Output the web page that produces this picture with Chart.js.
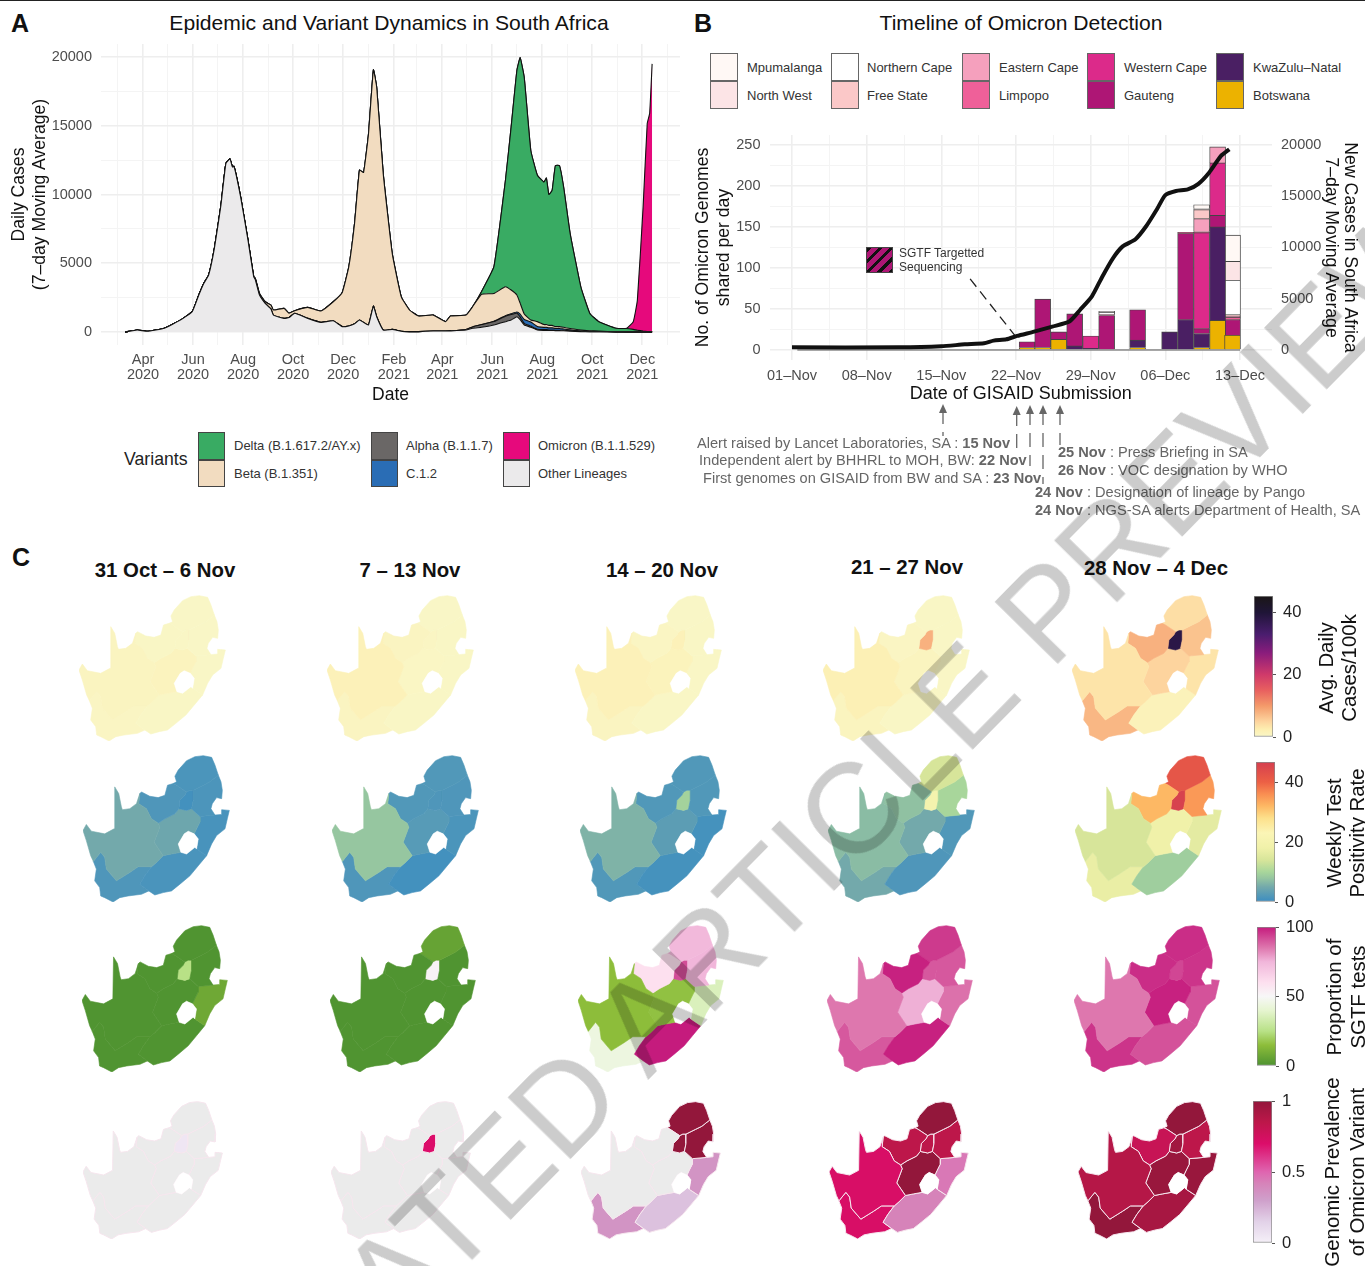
<!DOCTYPE html>
<html>
<head>
<meta charset="utf-8">
<title>Omicron in South Africa</title>
<script src="https://cdn.jsdelivr.net/npm/chart.js@4/dist/chart.umd.min.js"></script>
<style>
  html, body { margin: 0; padding: 0; background: #fff; }
  #page { position: relative; width: 1365px; height: 1266px; overflow: hidden; font-family: 'Liberation Sans', Arial, sans-serif; }
  #page canvas { position: absolute; }
  .txt { position: absolute; white-space: pre; }
  .swatch { position: absolute; box-sizing: border-box; }
  #rule { position: absolute; left: 0; top: 0; width: 1365px; height: 1px; background: #222; }
  #mark { position: absolute; white-space: nowrap; font-size: 128px; font-weight: 400; color: #cccccc; mix-blend-mode: multiply; pointer-events: none; z-index: 10; }
  #notes { position: absolute; left: 0; top: 0; }
</style>
</head>
<body>
<div id="page"><div id="rule"></div></div>
<script>
// Panel A: days counted from 1 Apr 2020, stacked cases per lineage
const caseDays = [-22,-7,5,26,47,60,68,74,80,87,95,101,106,109,111,119,128,135,137,142,149,156,159,172,178,185,201,217,232,243,251,258,264,269,275,281,285,293,304,315,325,336,354,369,375,394,402,413,428,442,449,456,460,465,473,481,489,492,495,499,503,508,513,521,534,545,556,577,590,598,603,610,615,618,621];
const otherCases = [0,145,50,270,920,1480,2690,3530,4140,6080,9220,12250,12590,12000,12050,9830,6680,4020,3800,2700,2080,1680,1230,990,1050,1360,990,700,820,390,440,600,870,700,510,1890,1110,145,190,60,30,30,70,70,80,145,270,340,510,750,870,1110,900,510,350,145,120,120,110,110,100,100,90,60,25,20,20,10,10,10,10,10,10,10,10];
const alphaCases = [0,0,0,0,0,0,0,0,0,0,0,0,0,0,0,0,0,0,0,0,0,0,0,0,0,0,0,0,0,0,0,0,0,0,0,0,0,0,0,0,0,0,0,0,0,40,100,200,250,400,400,250,200,120,80,60,50,50,40,40,30,30,30,25,15,10,5,0,0,0,0,0,0,0,0];
const c12Cases = [0,0,0,0,0,0,0,0,0,0,0,0,0,0,0,0,0,0,0,0,0,0,0,0,0,0,0,0,0,0,0,0,0,0,0,0,0,0,0,0,0,0,0,0,0,0,0,0,20,40,60,100,200,280,300,200,170,170,150,150,130,130,100,70,30,15,10,0,0,0,0,0,0,0,0];
const betaCases = [0,0,0,0,0,0,0,0,0,0,0,0,0,0,0,0,0,0,100,100,120,280,370,730,310,190,800,825,1380,2490,4310,7300,10900,10900,13890,17180,16690,11355,5510,2500,1570,1130,1160,680,1080,1045,1470,2200,2020,2100,1720,1230,800,400,150,350,200,200,180,180,130,130,120,100,70,50,30,10,0,0,0,0,0,0,0];
const deltaCases = [0,0,0,0,0,0,0,0,0,0,0,0,0,0,0,0,0,0,0,0,0,0,0,0,0,0,0,0,0,0,0,0,0,0,0,0,0,0,0,0,0,0,0,0,0,0,0,210,1950,7710,11850,16310,17850,17190,12320,10645,10360,10660,9520,9820,11710,11710,10210,6905,3150,1255,685,250,240,180,120,60,30,20,10];
const omicronCases = [0,0,0,0,0,0,0,0,0,0,0,0,0,0,0,0,0,0,0,0,0,0,0,0,0,0,0,0,0,0,0,0,0,0,0,0,0,0,0,0,0,0,0,0,0,0,0,0,0,0,0,0,0,0,0,0,0,0,0,0,0,0,0,0,0,0,0,0,20,560,2190,9030,15110,15870,19480];
const monthTicks = [-31,0,30,61,91,122,153,183,214,244,275,306,334,365,395,426,456,487,518,548,579,609,640];
const monthLabels = { 0:['Apr','2020'], 61:['Jun','2020'], 122:['Aug','2020'], 183:['Oct','2020'], 244:['Dec','2020'], 306:['Feb','2021'], 365:['Apr','2021'], 426:['Jun','2021'], 487:['Aug','2021'], 548:['Oct','2021'], 609:['Dec','2021'] };
const variantNames = ['Delta (B.1.617.2/AY.x)','Beta (B.1.351)','Alpha (B.1.1.7)','C.1.2','Omicron (B.1.1.529)','Other Lineages'];
const variantColors = ['#39ab63','#f2dcc0','#6a6766','#2a6db5','#e6097c','#ebeaeb'];

// Panel B: days counted from 1 Nov 2021
const genomeDays = [22.04,23.5,25,26.5,28,29.5,32.4,35.4,36.9,38.4,39.9,41.3];
const botswana = [3,3,13,0,0,0,3,0,0,3,36,18];
const kwazuluNatal = [0,0,0,5,2,0,9,22,37,17,114,0];
const gauteng = [7,59,9,39,0,42,37,0,105,6,14,19];
const westernCape = [0,0,0,0,15,0,0,0,0,117,64,0];
const limpopo = [0,0,0,0,0,1,0,0,1.5,1,0,3];
const easternCape = [0,0,0,0,0,0,0,0,0,16,19.5,1];
const freeState = [0,0,0,0,0,0,0,0,0,11,0,2];
const northernCape = [0,0,0,0,0,3,0,0,0,0,0,42];
const northWest = [0,0,0,0,0,0,0,0,0,1,0,23];
const mpumalanga = [0,0,0,0,0,1,0,0,0,5,0,32];
const sevenDayDays = [0,10,14,16.2,18,18.9,20.1,21.1,22.7,24.4,26,27,28.1,29.1,30.1,31,32.2,33.2,34.2,35,36,37.1,38.1,39.1,40.2,41];
const sevenDayCases = [260,260,360,550,650,910,1040,1370,1790,2280,2770,3900,5200,7170,8960,10100,10800,12060,13700,15100,15500,15650,16200,17280,18900,19560];
const dateTicks = [0,3.5,7,10.5,14,17.5,21,24.5,28,31.5,35,38.5,42];
const dateLabels = { 0:'01–Nov', 7:'08–Nov', 14:'15–Nov', 21:'22–Nov', 28:'29–Nov', 35:'06–Dec', 42:'13–Dec' };
const genomeNames = ['Mpumalanga','North West','Northern Cape','Free State','Eastern Cape','Limpopo','Western Cape','Gauteng','KwaZulu–Natal','Botswana'];
const genomeColors = ['#fff8f5','#fce4e6','#ffffff','#fbc8c8','#f5a0bd','#ef6099','#dc2a8a','#ae1675','#4a1f63','#ecb200'];

// Panel C: province outlines in its own map units
const northernCapeShape = [[160,140],[172,160],[180,200],[183,208],[205,205],[225,190],[235,160],[232,190],[255,205],[270,235],[290,248],[295,260],[278,305],[305,345],[285,365],[270,378],[230,378],[205,395],[165,420],[135,385],[130,350],[118,335],[96,362],[88,345],[75,300],[65,270],[75,252],[90,272],[130,280],[158,265]];
const northWestShape = [[235,160],[240,155],[265,168],[290,172],[310,165],[318,135],[335,130],[345,135],[375,155],[370,165],[355,180],[352,205],[340,220],[310,235],[290,248],[270,235],[255,205],[232,190]];
const limpopoShape = [[335,130],[345,125],[340,108],[350,90],[375,62],[400,50],[425,47],[450,52],[460,75],[470,105],[445,125],[425,135],[395,150],[385,150],[375,155],[345,135]];
const mpumalangaShape = [[470,105],[478,125],[482,150],[480,175],[465,172],[452,190],[448,205],[460,224],[415,228],[390,205],[395,180],[395,150],[425,135],[445,125]];
const gautengShape = [[375,155],[385,150],[395,150],[395,180],[390,205],[375,210],[352,205],[355,180],[370,165]];
const freeStateShape = [[290,248],[310,235],[340,220],[352,205],[375,210],[390,205],[415,228],[415,245],[405,265],[398,280],[380,272],[368,280],[350,310],[358,335],[330,340],[305,345],[278,305],[295,260]];
const kwazuluNatalShape = [[415,228],[460,224],[480,222],[480,208],[503,210],[497,235],[490,265],[465,285],[450,310],[435,345],[405,325],[410,295],[398,280],[405,265],[415,245]];
const easternCapeShape = [[305,345],[330,340],[358,335],[375,340],[400,320],[405,325],[435,345],[410,375],[385,405],[355,430],[330,450],[305,455],[280,462],[262,450],[235,430],[250,405],[270,378],[285,365]];
const westernCapeShape = [[100,420],[105,385],[96,362],[118,335],[130,350],[135,385],[165,420],[205,395],[230,378],[270,378],[250,405],[235,430],[262,450],[240,460],[200,465],[175,470],[155,483],[130,470],[118,465],[115,440]];
const lesothoShape = [[380,272],[398,280],[410,295],[405,325],[400,320],[375,340],[358,335],[350,310],[368,280]];
const provinceShapes = [northernCapeShape,northWestShape,limpopoShape,mpumalangaShape,gautengShape,freeStateShape,kwazuluNatalShape,easternCapeShape,westernCapeShape];

// weekly values, province order as provinceShapes
const weekTitles = ['31 Oct – 6 Nov','7 – 13 Nov','14 – 20 Nov','21 – 27 Nov','28 Nov – 4 Dec'];
const casesWeeks = [
  [0.8,0.3,0.2,0.2,0.3,1.0,0.2,0.3,0.5],
  [1.6,0.7,0.2,0.3,0.5,0.4,0.3,0.3,0.7],
  [1.6,0.5,0.2,0.3,1.6,1.2,0.3,0.3,0.7],
  [2.0,0.5,0.3,0.3,8.0,0.9,0.3,0.3,0.9],
  [3.5,8.0,4.0,6.5,38,5.0,3.5,1.5,7.5]
];
const positivityWeeks = [
  [5,1.8,1.5,1.6,0.8,4.5,1.2,1.4,1.8],
  [8,2.0,2.0,1.8,1.8,2.5,1.5,0.8,1.8],
  [6,2.0,2.0,2.0,9.5,3.0,1.0,1.0,2.0],
  [7,7.5,14,10,20,5,2,1.8,5],
  [14,32,42,35,46,18,16,9,17]
];
const sgtfWeeks = [
  [1,1,1,1,25,1,8,1,1],
  [1,1,6,1,52,1,1,1,1],
  [15,60,74,75,92,16,36,100,44],
  [85,99,95,90,90,76,86,99,90],
  [85,97,97,96,93,99,91,91,96]
];
const prevalenceWeeks = [
  [null,null,null,null,0.05,null,null,null,null],
  [null,null,null,null,0.7,null,null,null,null],
  [null,null,1,1,1,null,0.35,0.2,0.35],
  [0.72,0.85,1,0.85,0.85,1,0.45,0.42,0.72],
  [0.88,0.8,1,0.85,0.95,0.98,0.98,0.93,1]
];

const casesStops = [0,2.5,5,10,15,20,27,33,40,45.3];
const casesColors = ['#f9f7c8','#fdeeb0','#fdd49e','#f49a6a','#e8605f','#d03a6a','#8a1c7c','#4a1d6e','#1f1537','#1a1616'];
const positivityStops = [0,5,8,10,14,18,23,28,32,36,40,46.7];
const positivityColors = ['#3a8cc2','#73a9ab','#96c6a0','#a8d69b','#d7e59a','#f0f1a9','#fbf5b6','#fde08b','#fdb864','#f98e52','#ec6045','#d53e4f'];
const sgtfStops = [0,15,25,40,50,60,75,85,100];
const sgtfColors = ['#4c9130','#8dbd3a','#b8e186','#e6f5d0','#f7f7f7','#fde0ef','#f1b6da','#de77ae','#c51b7d'];
const prevalenceStops = [0,0.15,0.3,0.42,0.5,0.7,0.85,1];
const prevalenceColors = ['#f5f0f8','#e2d2e8','#cfa0cb','#d683b9','#df65b0','#dc0d6a','#bd174a','#93173b'];
const missingColor = '#ebebeb';

const page = document.getElementById('page');
Chart.defaults.font.family = "'Liberation Sans', Arial, sans-serif";
Chart.defaults.animation = false;
Chart.defaults.responsive = false;
Chart.defaults.plugins.legend.display = false;
Chart.defaults.plugins.tooltip.enabled = false;

function addCanvas(left, top, width, height) {
  const c = document.createElement('canvas');
  c.width = width; c.height = height;
  c.style.left = left + 'px'; c.style.top = top + 'px';
  c.style.width = width + 'px'; c.style.height = height + 'px';
  page.appendChild(c);
  return c;
}

// cy is the vertical centre of the text
function addText(html, x, cy, size, extra = {}) {
  const d = document.createElement('div');
  d.className = 'txt';
  d.innerHTML = html;
  d.style.left = x + 'px';
  d.style.top = cy + 'px';
  d.style.fontSize = size + 'px';
  d.style.transform = 'translateY(-50%)';
  Object.assign(d.style, extra);
  page.appendChild(d);
  return d;
}

function addCentered(html, cx, cy, size, extra = {}) {
  return addText(html, cx, cy, size, Object.assign({ transform: 'translate(-50%,-50%)', textAlign: 'center' }, extra));
}

function addSwatch(x, y, w, h, color, border) {
  const d = document.createElement('div');
  d.className = 'swatch';
  Object.assign(d.style, { left: x + 'px', top: y + 'px', width: w + 'px', height: h + 'px', background: color, border: '1px solid ' + border });
  page.appendChild(d);
  return d;
}

function hexRgb(h) {
  return [parseInt(h.slice(1,3),16), parseInt(h.slice(3,5),16), parseInt(h.slice(5,7),16)];
}

function scaleColor(stops, colors, v) {
  if (v === null) return missingColor;
  for (let i = 1; i < stops.length; i++) {
    if (v <= stops[i]) {
      const t = (v - stops[i-1]) / (stops[i] - stops[i-1]);
      const a = hexRgb(colors[i-1]), b = hexRgb(colors[i]);
      return `rgb(${a.map((p, k) => Math.round(p + (b[k] - p) * t)).join(',')})`;
    }
  }
  return colors[colors.length - 1];
}

// fixed axis box, and no extra room for labels that stick out, so the plot area stays put
function pinBox(s, width, height) {
  if (width !== null) s.width = width;
  if (height !== null) s.height = height;
  s.paddingLeft = 0; s.paddingRight = 0; s.paddingTop = 0; s.paddingBottom = 0;
}

const gridMajor = '#eeeeee';
const gridMinor = '#f4f4f4';
const tickGrey = '#4d4d4d';

/* ---------- panel A ---------- */
addText('A', 11, 23, 25, { fontWeight: 700, color: '#111' });
addCentered('Epidemic and Variant Dynamics in South Africa', 389, 23, 21.1, { color: '#111' });

function layer(values, color, fill) {
  return {
    data: values.map((v, i) => ({ x: caseDays[i], y: v })),
    borderColor: '#111', borderWidth: 1.1,
    backgroundColor: color, fill, pointRadius: 0, tension: 0.12,
  };
}

new Chart(addCanvas(0, 30, 690, 380), {
  type: 'line',
  data: {
    datasets: [
      layer(otherCases, variantColors[5], 'origin'),
      layer(alphaCases, variantColors[2], '-1'),
      layer(c12Cases, variantColors[3], '-1'),
      layer(betaCases, variantColors[1], '-1'),
      layer(deltaCases, variantColors[0], '-1'),
      layer(omicronCases, variantColors[4], '-1'),
    ],
  },
  options: {
    layout: { padding: { top: 14, right: 10 } },
    scales: {
      x: {
        type: 'linear', min: -51.3, max: 655,
        afterBuildTicks: (s) => { s.ticks = monthTicks.map((v) => ({ value: v })); },
        afterFit: (s) => pinBox(s, null, 65),
        grid: {
          drawTicks: false,
          color: (c) => (c.tick && monthLabels[c.tick.value] ? gridMajor : gridMinor),
          lineWidth: (c) => (c.tick && monthLabels[c.tick.value] ? 1.6 : 1),
        },
        border: { display: false },
        ticks: {
          autoSkip: false, maxRotation: 0, color: tickGrey, font: { size: 14.5, lineHeight: 1.05 }, padding: 7,
          callback: (v) => monthLabels[v] || '',
        },
        title: { display: true, text: 'Date', color: '#111', font: { size: 17.5 }, padding: { top: 0, bottom: 4 } },
      },
      y: {
        stacked: true, min: -945, max: 20945,
        afterBuildTicks: (s) => { s.ticks = [0,2500,5000,7500,10000,12500,15000,17500,20000].map((v) => ({ value: v })); },
        afterFit: (s) => pinBox(s, 101, null),
        grid: {
          drawTicks: false,
          color: (c) => (c.tick && c.tick.value % 5000 === 0 ? gridMajor : gridMinor),
          lineWidth: (c) => (c.tick && c.tick.value % 5000 === 0 ? 1.6 : 1),
        },
        border: { display: false },
        ticks: {
          autoSkip: false, color: tickGrey, font: { size: 14.5 }, padding: 9,
          callback: (v) => (v % 5000 === 0 ? String(v) : ''),
        },
        title: { display: true, text: ['Daily Cases','(7–day Moving Average)'], color: '#111', font: { size: 17.6, lineHeight: 1.18 }, padding: { top: 9, bottom: 0 } },
      },
    },
  },
});

addText('Variants', 124, 459, 17.7, { color: '#222' });
const variantSwatchX = [198, 371, 503];
const variantLabelX = [234, 406, 538];
variantNames.forEach((name, i) => {
  const col = Math.floor(i / 2), row = i % 2;
  addSwatch(variantSwatchX[col], 432 + row * 27.5, 27, 27.5, variantColors[i], '#444');
  addText(name, variantLabelX[col], 445 + row * 28, 13, { color: '#333' });
});

/* ---------- panel B ---------- */
addText('B', 694, 23, 25, { fontWeight: 700, color: '#111' });
addCentered('Timeline of Omicron Detection', 1021, 23, 21.1, { color: '#111' });

const genomeSwatchX = [710, 831, 962, 1087, 1216];
const genomeLabelX = [747, 867, 999, 1124, 1253];
genomeNames.forEach((name, i) => {
  const col = Math.floor(i / 2), row = i % 2;
  addSwatch(genomeSwatchX[col], 53 + row * 27.5, 28, 28, genomeColors[i], '#666');
  addText(name, genomeLabelX[col], 67 + row * 28, 13, { color: '#333' });
});

function stackBar(values, color) {
  return {
    data: values.map((v, i) => ({ x: genomeDays[i], y: v === 0 ? null : v })),
    backgroundColor: color, borderColor: '#444', borderWidth: 0.9,
    barThickness: 15.9, yAxisID: 'y', order: 5,
  };
}

new Chart(addCanvas(690, 120, 675, 290), {
  data: {
    datasets: [
      {
        type: 'line', data: [{ x: 0.5, y: 0 }, { x: 42, y: 0 }], yAxisID: 'yRight',
        borderColor: '#555', borderWidth: 1, pointRadius: 0, order: 2,
      },
      {
        type: 'line', data: sevenDayDays.map((d, i) => ({ x: d, y: sevenDayCases[i] })), yAxisID: 'yRight',
        borderColor: '#111', borderWidth: 4, pointRadius: 0, tension: 0.2, order: 1,
      },
      {
        type: 'line', data: [{ x: 16.7, y: 6930 }, { x: 21, y: 1272 }], yAxisID: 'yRight',
        borderColor: '#222', borderWidth: 1.3, borderDash: [10, 6], pointRadius: 0, order: 1,
      },
      { type: 'bar', ...stackBar(botswana, genomeColors[9]) },
      { type: 'bar', ...stackBar(kwazuluNatal, genomeColors[8]) },
      { type: 'bar', ...stackBar(gauteng, genomeColors[7]) },
      { type: 'bar', ...stackBar(westernCape, genomeColors[6]) },
      { type: 'bar', ...stackBar(limpopo, genomeColors[5]) },
      { type: 'bar', ...stackBar(easternCape, genomeColors[4]) },
      { type: 'bar', ...stackBar(freeState, genomeColors[3]) },
      { type: 'bar', ...stackBar(northernCape, genomeColors[2]) },
      { type: 'bar', ...stackBar(northWest, genomeColors[1]) },
      { type: 'bar', ...stackBar(mpumalanga, genomeColors[0]) },
    ],
  },
  options: {
    layout: { padding: { top: 15 } },
    scales: {
      x: {
        type: 'linear', stacked: true, offset: false, min: -2.11, max: 45,
        afterBuildTicks: (s) => { s.ticks = dateTicks.map((v) => ({ value: v })); },
        afterFit: (s) => pinBox(s, null, 50),
        grid: {
          offset: false, drawTicks: false,
          color: (c) => (c.tick && dateLabels[c.tick.value] ? gridMajor : gridMinor),
          lineWidth: (c) => (c.tick && dateLabels[c.tick.value] ? 1.6 : 1),
        },
        border: { display: false },
        ticks: {
          autoSkip: false, maxRotation: 0, color: tickGrey, font: { size: 14.5 }, padding: 7,
          callback: (v) => dateLabels[v] || '',
        },
        title: { display: true, text: 'Date of GISAID Submission', color: '#111', font: { size: 18 }, padding: { top: 0, bottom: 5 } },
      },
      y: {
        stacked: true, position: 'left', min: -12.2, max: 262,
        afterBuildTicks: (s) => { s.ticks = [0,25,50,75,100,125,150,175,200,225,250].map((v) => ({ value: v })); },
        afterFit: (s) => pinBox(s, 79.5, null),
        grid: {
          drawTicks: false,
          color: (c) => (c.tick && c.tick.value % 50 === 0 ? gridMajor : gridMinor),
          lineWidth: (c) => (c.tick && c.tick.value % 50 === 0 ? 1.6 : 1),
        },
        border: { display: false },
        ticks: {
          autoSkip: false, color: tickGrey, font: { size: 14.5 }, padding: 9,
          callback: (v) => (v % 50 === 0 ? String(v) : ''),
        },
        title: { display: true, text: ['No. of Omicron Genomes','shared per day'], color: '#111', font: { size: 17.6, lineHeight: 1.18 }, padding: { top: 3, bottom: 0 } },
      },
      yRight: {
        position: 'right', min: -976, max: 20960,
        afterBuildTicks: (s) => { s.ticks = [0,5000,10000,15000,20000].map((v) => ({ value: v })); },
        afterFit: (s) => pinBox(s, 93, null),
        grid: { display: false },
        border: { display: false },
        ticks: { autoSkip: false, color: tickGrey, font: { size: 14.5 }, padding: 1, callback: (v) => String(v) },
        title: { display: true, text: ['New Cases in South Africa','7–day Moving Average'], color: '#111', font: { size: 17.7, lineHeight: 1.1 }, padding: { top: 5, bottom: 0 } },
      },
    },
  },
});

// SGTF key and the arrows under the axis
const hatch = addSwatch(866, 247, 27, 26, 'repeating-linear-gradient(135deg,#111 0 3px,#ae1675 3px 8px)', '#444');
hatch.style.zIndex = 3;
addText('SGTF Targetted', 899, 253, 12, { color: '#333' });
addText('Sequencing', 899, 267, 12, { color: '#333' });

const arrowX = [943, 1016.7, 1030, 1043, 1060];
const arrowTop = [404, 406, 405, 405, 405];
const arrowEnd = [436, 450, 466, 484, 445];
const svgNs = 'http://www.w3.org/2000/svg';
const notes = document.createElementNS(svgNs, 'svg');
notes.setAttribute('id', 'notes');
notes.setAttribute('width', 1365);
notes.setAttribute('height', 530);
arrowX.forEach((x, i) => {
  const head = document.createElementNS(svgNs, 'polygon');
  head.setAttribute('points', `${x},${arrowTop[i]} ${x - 4},${arrowTop[i] + 9} ${x + 4},${arrowTop[i] + 9}`);
  head.setAttribute('fill', '#666');
  const stem = document.createElementNS(svgNs, 'line');
  stem.setAttribute('x1', x); stem.setAttribute('x2', x);
  stem.setAttribute('y1', arrowTop[i] + 6); stem.setAttribute('y2', arrowEnd[i]);
  stem.setAttribute('stroke', '#666');
  stem.setAttribute('stroke-width', 1.3);
  stem.setAttribute('stroke-dasharray', '14 8');
  notes.appendChild(stem);
  notes.appendChild(head);
});
page.appendChild(notes);

const noteGrey = { color: '#666' };
addText('Alert raised by Lancet Laboratories, SA : <b>15 Nov</b>', 697, 443, 14.6, noteGrey);
addText('Independent alert by BHHRL to MOH, BW: <b>22 Nov</b>', 699, 460, 14.6, noteGrey);
addText('First genomes on GISAID from BW and SA : <b>23 Nov</b>', 703, 478, 14.6, noteGrey);
addText('<b>25 Nov</b> : Press Briefing in SA', 1058, 452, 14.6, noteGrey);
addText('<b>26 Nov</b> : VOC designation by WHO', 1058, 470, 14.6, noteGrey);
addText('<b>24 Nov</b> : Designation of lineage by Pango', 1035, 492, 14.6, noteGrey);
addText('<b>24 Nov</b> : NGS-SA alerts Department of Health, SA', 1035, 510, 14.6, noteGrey);

/* ---------- panel C ---------- */
addText('C', 12, 557, 25, { fontWeight: 700, color: '#111' });
const weekTitleX = [165, 410, 662, 907, 1156];
const weekTitleY = [570, 570, 570, 567, 568];
weekTitles.forEach((t, i) => addCentered(t, weekTitleX[i], weekTitleY[i], 20.4, { fontWeight: 700, color: '#111' }));

function polygon(shape, fillColor, edge, edgeWidth) {
  const pts = shape.concat([shape[0]]).map((p) => ({ x: p[0], y: p[1] }));
  return {
    data: pts, showLine: true, fill: 'shape', backgroundColor: fillColor,
    borderColor: edge || fillColor, borderWidth: edgeWidth, pointRadius: 0, tension: 0,
  };
}

function drawMap(left, top, width, height, values, stops, colors, edge, edgeWidth) {
  const datasets = [polygon(lesothoShape, '#ffffff', '#ffffff', 0.5)];
  provinceShapes.forEach((shape, i) => datasets.push(polygon(shape, scaleColor(stops, colors, values[i]), edge, edgeWidth)));
  new Chart(addCanvas(left, top, width, height), {
    type: 'scatter',
    data: { datasets },
    options: {
      events: [],
      layout: { padding: 0 },
      scales: {
        x: { type: 'linear', display: false, min: 65, max: 505 },
        y: { type: 'linear', display: false, min: 45, max: 483, reverse: true },
      },
    },
  });
}

const mapLefts = [
  [79, 327, 575, 823, 1072],
  [83, 332, 580, 828, 1075],
  [82, 330, 578, 827, 1074],
  [83, 331, 581, 829, 1078],
];
const mapTops = [595, 755, 925, 1101];
const mapSizes = [[147, 146], [147, 147], [146, 147], [140, 138]];
const mapRows = [
  [casesWeeks, casesStops, casesColors],
  [positivityWeeks, positivityStops, positivityColors],
  [sgtfWeeks, sgtfStops, sgtfColors],
  [prevalenceWeeks, prevalenceStops, prevalenceColors],
];
mapRows.forEach((row, r) => {
  row[0].forEach((week, w) => {
    drawMap(mapLefts[r][w], mapTops[r], mapSizes[r][0], mapSizes[r][1], week, row[1], row[2],
      r === 3 ? '#f6e6ee' : null, r === 3 ? 1 : 0.6);
  });
});

function colorBar(left, top, height, maxValue, tickValues, stops, colors) {
  new Chart(addCanvas(left, top - 12, 64, height + 24), {
    type: 'bar',
    data: {
      labels: [''],
      datasets: [{
        data: [[0, maxValue]],
        barPercentage: 1, categoryPercentage: 1,
        borderColor: '#8a8a8a', borderWidth: 1, borderSkipped: false,
        backgroundColor: (c) => {
          const area = c.chart.chartArea;
          if (!area) return colors[0];
          const g = c.chart.ctx.createLinearGradient(0, area.bottom, 0, area.top);
          stops.forEach((s, i) => g.addColorStop(s / stops[stops.length - 1], colors[i]));
          return g;
        },
      }],
    },
    options: {
      events: [],
      layout: { padding: { top: 12, bottom: 12 } },
      scales: {
        x: { display: false },
        y: {
          position: 'right', min: 0, max: maxValue,
          afterBuildTicks: (s) => { s.ticks = tickValues.map((v) => ({ value: v })); },
          afterFit: (s) => pinBox(s, 45, null),
          grid: { drawOnChartArea: false, tickLength: 3, color: '#555' },
          border: { display: false },
          ticks: { autoSkip: false, color: '#222', font: { size: 16.5 }, padding: 7, callback: (v) => String(v) },
        },
      },
    },
  });
}

colorBar(1254, 596, 141, 45.3, [0,20,40], casesStops, casesColors);
colorBar(1256, 762, 140, 46.7, [0,20,40], positivityStops, positivityColors);
colorBar(1257, 927, 139, 100, [0,50,100], sgtfStops, sgtfColors);
colorBar(1253, 1101, 142, 1, [0,0.5,1], prevalenceStops, prevalenceColors);

const sideTitles = [
  ['Avg. Daily', 'Cases/100k', 1326, 1349, 668],
  ['Weekly Test', 'Positivity Rate', 1334, 1357, 833],
  ['Proportion of', 'SGTF tests', 1334, 1358, 997],
  ['Genomic Prevalence', 'of Omicron Variant', 1332, 1357, 1172],
];
sideTitles.forEach(([a, b, xa, xb, cy]) => {
  const turn = { transform: 'translate(-50%,-50%) rotate(-90deg)', color: '#111' };
  addCentered(a, xa, cy, 20.4, turn);
  addCentered(b, xb, cy, 20.4, turn);
});

// preview stamp running across the page
const mark = document.createElement('div');
mark.id = 'mark';
mark.textContent = 'ACCELERATED ARTICLE PREVIEW';
mark.style.left = '686px';
mark.style.top = '978px';
mark.style.transform = 'translate(-50%,-50%) rotate(-45.5deg)';
page.appendChild(mark);
</script>
</body>
</html>
